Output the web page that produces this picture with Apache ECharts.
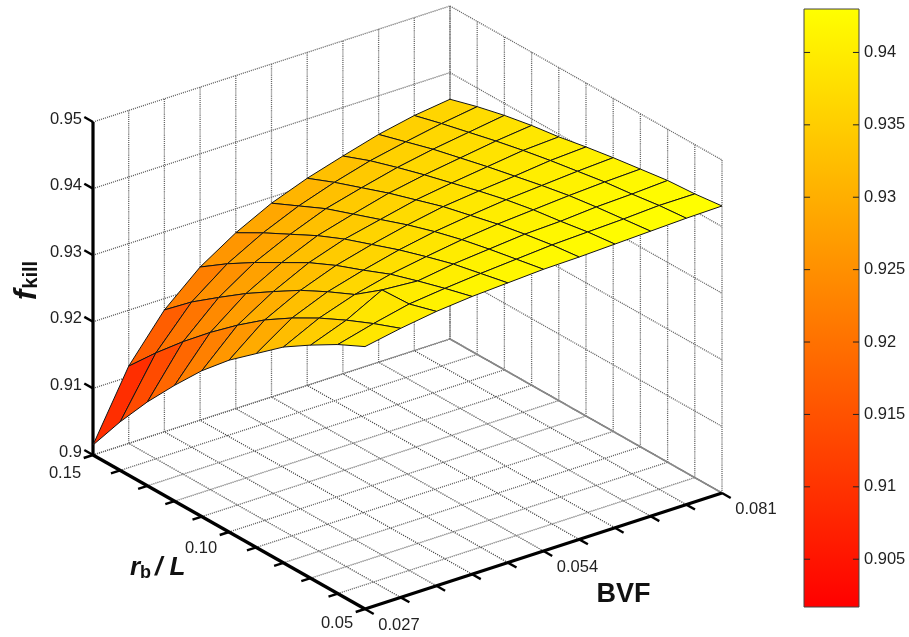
<!DOCTYPE html>
<html><head><meta charset="utf-8">
<style>html,body{margin:0;padding:0;background:#fff}#c{width:909px;height:637px}</style>
<script src="https://cdn.jsdelivr.net/npm/echarts@6/dist/echarts.min.js"></script>
</head><body><div id="c"></div>
<script>
// ---------- data ----------
const bvfValues = [0.027,0.0324,0.0378,0.0432,0.0486,0.054,0.0594,0.0648,0.0702,0.0756,0.081];
const rbValues  = [0.15,0.14,0.13,0.12,0.11,0.10,0.09,0.08,0.07,0.06,0.05];
const zTicks    = [0.90,0.91,0.92,0.93,0.94,0.95];
const zTickLabels = ['0.9','0.91','0.92','0.93','0.94','0.95'];
const rbTickLabels = [[0.15,'0.15'],[0.10,'0.10'],[0.05,'0.05']];
const bvfTickLabels = [[0.027,'0.027'],[0.054,'0.054'],[0.081,'0.081']];
const colorbarTicks = [0.905,0.91,0.915,0.92,0.925,0.93,0.935,0.94];
const colorRange = [0.9017,0.943];
// f_kill: one row per BVF value, one column per rb/L value
const fkill = [
 [.9015,.9073,.9126,.9174,.9219,.9258,.9291,.9324,.9350,.9374,.9394],
 [.9116,.9159,.9199,.9236,.9270,.9301,.9327,.9350,.9370,.9388,.9404],
 [.9183,.9218,.9248,.9277,.9303,.9328,.9349,.9368,.9398,.9400,.9412],
 [.9230,.9258,.9283,.9306,.9329,.9348,.9364,.9381,.9394,.9406,.9417],
 [.9264,.9287,.9308,.9329,.9347,.9362,.9377,.9390,.9402,.9411,.9420],
 [.9291,.9310,.9329,.9344,.9359,.9374,.9387,.9398,.9407,.9415,.9423],
 [.9311,.9328,.9343,.9358,.9371,.9384,.9394,.9404,.9412,.9419,.9424],
 [.9327,.9343,.9356,.9368,.9379,.9390,.9400,.9408,.9414,.9421,.9426],
 [.9342,.9354,.9366,.9376,.9386,.9395,.9404,.9412,.9418,.9423,.9428],
 [.9353,.9364,.9374,.9384,.9393,.9401,.9408,.9415,.9420,.9426,.9430],
 [.9360,.9372,.9382,.9390,.9396,.9404,.9411,.9417,.9423,.9426,.9431]
];

// ---------- oblique 3D projection onto a hidden cartesian plane ----------
const bvfR=[0.027,0.081], rbR=[0.05,0.15], zR=[0.90,0.95];
const view={ux:357,uy:116,vx:-272,vy:154,wy:333};
function proj(b,r,z){
  const u=(b-bvfR[0])/(bvfR[1]-bvfR[0]), v=(r-rbR[0])/(rbR[1]-rbR[0]), w=(z-zR[0])/(zR[1]-zR[0]);
  return [view.ux*u+view.vx*v, view.uy*u+view.vy*v+view.wy*w];
}
const FONT='"Liberation Sans",Arial,sans-serif';
function autumn(z){
  const t=Math.max(0,Math.min(1,(z-colorRange[0])/(colorRange[1]-colorRange[0])));
  return 'rgb(255,'+Math.round(255*t)+',0)';
}

// ---------- line lists: [[b,r,z],[b,r,z],style] ----------
const bMin=bvfR[0],bMax=bvfR[1],rMin=rbR[0],rMax=rbR[1],zMin=zR[0],zMax=zR[1];
const gridLines=[];
const DOT={stroke:'#666',lineWidth:1.3,lineDash:[1.1,1]};
const DOT2={stroke:'#444',lineWidth:1.3,lineDash:[1.1,1.2]};
const SOLID={stroke:'#888',lineWidth:1.5};
bvfValues.forEach(b=>{
  gridLines.push([[b,rMin,zMin],[b,rMax,zMin],DOT2]);
  gridLines.push([[b,rMax,zMin],[b,rMax,zMax],b===bMax?{stroke:'#777',lineWidth:1.4,lineDash:[1,.6]}:DOT]);
});
rbValues.forEach(r=>{
  gridLines.push([[bMin,r,zMin],[bMax,r,zMin],DOT]);
  gridLines.push([[bMax,r,zMin],[bMax,r,zMax],DOT]);
});
zTicks.forEach(z=>{
  gridLines.push([[bMin,rMax,z],[bMax,rMax,z],DOT]);
  gridLines.push([[bMax,rMax,z],[bMax,rMin,z],DOT]);
});
gridLines.push([[bMax,rMax,zMin],[bMax,rMin,zMin],SOLID]);

const AX={stroke:'#000',lineWidth:3.2};
const TK={stroke:'#000',lineWidth:2.4};
const axisLines=[];
axisLines.push([[bMin,rMax,zMin],[bMin,rMax,zMax],AX]);
axisLines.push([[bMin,rMax,zMin],[bMin,rMin,zMin],AX]);
axisLines.push([[bMin,rMin,zMin],[bMax,rMin,zMin],AX]);
const tb=(bMax-bMin)*0.026, tr=(rMax-rMin)*0.032;
zTicks.forEach(z=>axisLines.push([[bMin,rMax,z],[bMin,rMax+tr,z],TK]));
rbValues.forEach(r=>axisLines.push([[bMin,r,zMin],[bMin-tb,r,zMin],TK]));
bvfValues.forEach(b=>axisLines.push([[b,rMin,zMin],[b,rMin-tr,zMin],TK]));

// ---------- surface cells, far to near ----------
const cells=[];
for(let i=0;i<bvfValues.length-1;i++)for(let j=0;j<rbValues.length-1;j++)cells.push([i,j]);
const depth=c=>c[0]-c[1];
cells.sort((a,b)=>depth(b)-depth(a));

// ---------- labels ----------
const TICKFONT='16.5px '+FONT;
const labels=[];
zTicks.forEach((z,k)=>labels.push({p:[bMin,rMax,z],dx:-11,dy:-3,text:zTickLabels[k],align:'right',font:TICKFONT}));
rbTickLabels.forEach(t=>labels.push({p:[bMin,t[0],zMin],dx:-28,dy:16+(t[0]-0.10)*40,text:t[1],align:'center',font:TICKFONT}));
bvfTickLabels.forEach(t=>labels.push({p:[t[0],rMin,zMin],dx:34,dy:16.5,text:t[1],align:'center',font:TICKFONT}));
labels.push({p:[bMin,rMax,0.9262],dx:-66,dy:0,text:'{a|f}{b|kill}',align:'center',rotate:Math.PI/2,
  rich:{a:{font:'italic bold 31px '+FONT,fill:'#111',lineHeight:38},b:{font:'bold 20px '+FONT,fill:'#111',lineHeight:22,padding:[8,0,0,1]}}});
labels.push({p:[bMin,0.10,zMin],dx:-99,dy:36,text:'r',align:'left',font:'italic bold 26px '+FONT,fill:'#111'});
labels.push({p:[bMin,0.10,zMin],dx:-89,dy:41,text:'b',align:'left',font:'bold 18px '+FONT,fill:'#111'});
labels.push({p:[bMin,0.10,zMin],dx:-74,dy:36,text:'/ L',align:'left',font:'italic bold 26px '+FONT,fill:'#111'});
labels.push({p:[0.054,rMin,zMin],dx:80,dy:44,text:'BVF',align:'center',font:'bold 27px '+FONT,fill:'#111'});

function lineSeries(list,z){
  return {type:'custom',coordinateSystem:'cartesian2d',xAxisIndex:0,yAxisIndex:0,silent:true,z:z,clip:false,
    data:list.map((_,k)=>[k]),
    renderItem:(p,api)=>{
      const l=list[p.dataIndex],a=api.coord(proj.apply(null,l[0])),b=api.coord(proj.apply(null,l[1]));
      return {type:'line',shape:{x1:a[0],y1:a[1],x2:b[0],y2:b[1]},style:Object.assign({fill:null},l[2])};
    }};
}

const option={
  animation:false,backgroundColor:'#fff',tooltip:{show:false},
  grid:[
    {left:0,top:0,width:909,height:637,show:false},
    {left:804,top:9,width:55,height:598,show:true,borderColor:'#444',borderWidth:1,backgroundColor:'transparent',z:5}
  ],
  xAxis:[
    {type:'value',gridIndex:0,min:-365,max:544,show:false},
    {type:'value',gridIndex:1,min:0,max:1,show:false}
  ],
  yAxis:[
    {type:'value',gridIndex:0,min:-28,max:609,show:false},
    {type:'value',gridIndex:1,min:colorRange[0],max:colorRange[1],position:'right',z:10,splitLine:{show:false},
      axisLine:{show:false},axisTick:{show:false},
      axisLabel:{show:true,inside:false,customValues:colorbarTicks,margin:5,color:'#222',fontSize:16.5,fontFamily:FONT,
        formatter:v=>String(+v.toFixed(3))}}
  ],
  series:[
    lineSeries(gridLines,2),
    lineSeries(axisLines,3),
    {type:'custom',coordinateSystem:'cartesian2d',xAxisIndex:0,yAxisIndex:0,silent:true,z:4,clip:false,
      data:cells,
      renderItem:(p,api)=>{
        const c=cells[p.dataIndex],i=c[0],j=c[1];
        const corners=[[i,j],[i+1,j],[i+1,j+1],[i,j+1]];
        const zs=corners.map(q=>fkill[q[0]][q[1]]);
        const pts=corners.map(q=>api.coord(proj(bvfValues[q[0]],rbValues[q[1]],fkill[q[0]][q[1]])));
        return {type:'polygon',shape:{points:pts},
          style:{fill:autumn(zs.reduce((a,b)=>a+b,0)/4),stroke:'#151515',lineWidth:1,lineJoin:'round'}};
      }},
    {type:'custom',coordinateSystem:'cartesian2d',xAxisIndex:0,yAxisIndex:0,silent:true,z:6,clip:false,
      data:labels.map((_,k)=>[k]),
      renderItem:(p,api)=>{
        const l=labels[p.dataIndex],a=api.coord(proj.apply(null,l.p));
        const style={text:l.text,align:l.align,verticalAlign:'middle',fill:l.fill||'#222'};
        if(l.font){style.font=l.font;}
        if(l.rich){style.rich=l.rich;}
        return {type:'text',x:a[0]+l.dx,y:a[1]+l.dy,rotation:l.rotate||0,style:style};
      }},
    {type:'custom',coordinateSystem:'cartesian2d',xAxisIndex:1,yAxisIndex:1,silent:true,z:1,clip:false,
      data:[[0]],
      renderItem:(p,api)=>{
        const a=api.coord([0,colorRange[1]]),b=api.coord([1,colorRange[0]]);
        return {type:'rect',shape:{x:a[0],y:a[1],width:b[0]-a[0],height:b[1]-a[1]},
          style:{fill:new echarts.graphic.LinearGradient(0,0,0,1,[{offset:0,color:autumn(colorRange[1])},{offset:1,color:autumn(colorRange[0])}])}};
      }},
    // colour bar ticks on both inner edges
    {type:'custom',coordinateSystem:'cartesian2d',xAxisIndex:1,yAxisIndex:1,silent:true,z:6,clip:false,
      data:colorbarTicks.map(v=>[v]),
      renderItem:(p,api)=>{
        const v=api.value(0),len=0.11,seg=(x0,x1)=>{
          const a=api.coord([x0,v]),b=api.coord([x1,v]);
          return {type:'line',shape:{x1:a[0],y1:a[1],x2:b[0],y2:b[1]},style:{stroke:'#222',lineWidth:1}};
        };
        return {type:'group',children:[seg(0,len),seg(1-len,1)]};
      }}
  ]
};
const chart=echarts.init(document.getElementById('c'),null,{renderer:'canvas'});
chart.setOption(option);
</script></body></html>
